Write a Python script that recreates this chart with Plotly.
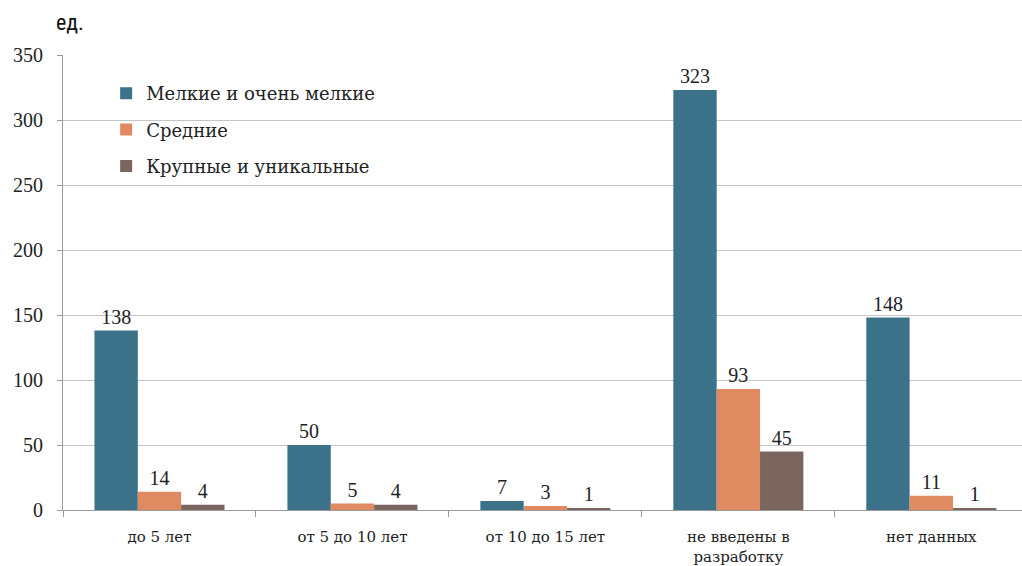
import plotly.graph_objects as go

categories = ["до 5 лет", "от 5 до 10 лет", "от 10 до 15 лет", "не введены в<br>разработку", "нет данных"]
small = [138, 50, 7, 323, 148]
medium = [14, 5, 3, 93, 11]
large = [4, 4, 1, 45, 1]
series_names = ["Мелкие и очень мелкие", "Средние", "Крупные и уникальные"]
colors = ["#3b7189", "#e08a61", "#7a665f"]

SERIF = "Liberation Serif, DejaVu Serif, serif"

fig = go.Figure()
for i, (name, vals) in enumerate(zip(series_names, [small, medium, large])):
    fig.add_trace(go.Bar(
        x=categories, y=vals, name=name, marker_color=colors[i],
        marker_line_width=0, text=[str(v) for v in vals], textposition="outside",
        textfont=dict(family=SERIF, size=20, color="#222"),
        cliponaxis=False, legendgroup=str(i),
    ))

fig.update_layout(
    width=1022, height=566,
    margin=dict(l=63, r=0, t=55, b=56),
    paper_bgcolor="white", plot_bgcolor="white",
    barmode="group", bargap=0.326, bargroupgap=0,
    font=dict(family=SERIF, color="#222"),
    showlegend=True,
    legend=dict(x=0.045, y=0.956, xanchor="left", yanchor="top",
                font=dict(family="DejaVu Serif", size=18, color="#222"),
                bgcolor="rgba(0,0,0,0)", traceorder="grouped", tracegroupgap=10),
    xaxis=dict(range=[-0.5, 4.47], showline=True, linecolor="#9a9a9a", linewidth=1, ticks="outside",
               tickson="boundaries", ticklen=6, tickcolor="#9a9a9a",
               ticklabelstandoff=13,
               tickfont=dict(family="DejaVu Serif", size=15, color="#222")),
    yaxis=dict(range=[0, 350], dtick=50, showgrid=True, gridcolor="#c4c4c4", gridwidth=1,
               showline=True, linecolor="#9a9a9a", ticks="outside", ticklen=5,
               tickcolor="#9a9a9a", zeroline=False, ticklabelstandoff=10,
               tickfont=dict(family=SERIF, size=20, color="#222")),
)
fig.add_annotation(text="ед.", xref="paper", yref="paper", x=-0.0094, y=1.0, yshift=33,
                   xanchor="left", yanchor="middle", showarrow=False,
                   font=dict(family="Roboto Condensed, Liberation Sans Narrow, Roboto", size=22, color="#111"))
fig.write_html("out.html")
